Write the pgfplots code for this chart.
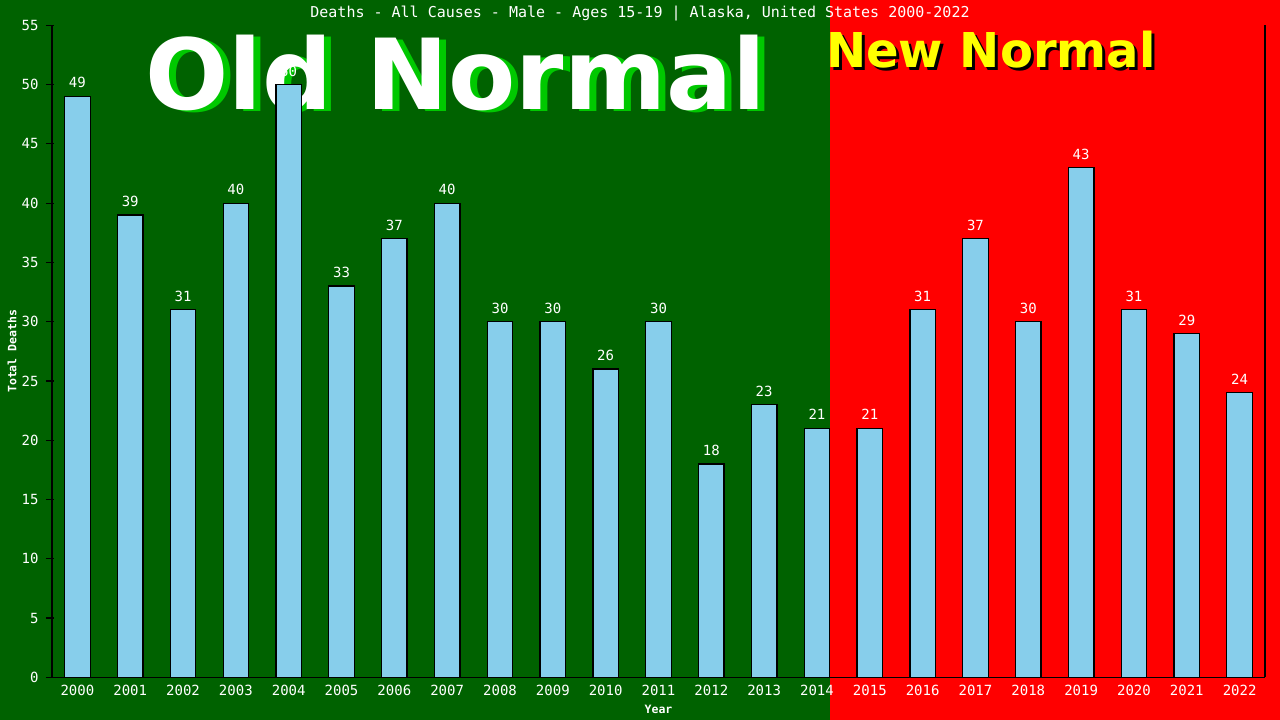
\documentclass[border=0pt]{standalone}
\usepackage{fontspec}
\usepackage{pgfplots}
\usepackage{pgfplotstable}
\pgfplotsset{compat=1.18}
\setmainfont{DejaVu Sans}
\newfontfamily\mono{DejaVu Sans Mono}

\definecolor{bgGreen}{RGB}{0,98,0}
\definecolor{bgRed}{RGB}{255,0,0}
\definecolor{barBlue}{RGB}{135,206,235}
\definecolor{oldShadow}{RGB}{0,200,0}
\definecolor{newYellow}{RGB}{255,255,0}

% year index (0 = 2000) and total deaths
\pgfplotstableread{
idx deaths
0  49
1  39
2  31
3  40
4  50
5  33
6  37
7  40
8  30
9  30
10 26
11 30
12 18
13 23
14 21
15 21
16 31
17 37
18 30
19 43
20 31
21 29
22 24
}\deaths

\begin{document}
\begin{tikzpicture}
    % background halves
    \fill[bgGreen] (0pt,0pt) rectangle (830pt,720pt);
    \fill[bgRed] (830pt,0pt) rectangle (1280pt,720pt);
    \useasboundingbox (0pt,0pt) rectangle (1280pt,720pt);

    % big labels
    \node[anchor=base west, inner sep=0, text=oldShadow, font=\bfseries\fontsize{98}{98}\selectfont]
        at (152pt,608pt) {Old Normal};
    \node[anchor=base west, inner sep=0, text=white, font=\bfseries\fontsize{98}{98}\selectfont]
        at (145pt,610pt) {Old Normal};
    \node[anchor=base west, inner sep=0, text=black, font=\bfseries\fontsize{48}{48}\selectfont]
        at (829pt,649pt) {New Normal};
    \node[anchor=base west, inner sep=0, text=newYellow, font=\bfseries\fontsize{48}{48}\selectfont]
        at (826pt,652pt) {New Normal};

    % title
    \node[anchor=base, inner sep=0, text=white, font=\mono\fontsize{15}{15}\selectfont]
        at (640pt,702pt) {Deaths - All Causes - Male - Ages 15-19 | Alaska, United States 2000-2022};

    \begin{axis}[
        at={(52pt,42.7pt)},
        anchor=south west,
        scale only axis,
        width=1213pt,
        height=652pt,
        xmin=-0.48, xmax=22.48,
        ymin=0, ymax=55,
        axis line style={draw=none},
        clip=false,
        /pgf/number format/assume math mode=true,
        ytick={0,5,...,55},
        ytick pos=left,
        ytick style={black, line width=1.2pt, xshift=2pt},
        major tick length=8pt,
        tick align=outside,
        yticklabel style={text=white, font=\mono\fontsize{14}{14}\selectfont, xshift=-2pt},
        xtick={0,...,22},
        xticklabels={2000,2001,2002,2003,2004,2005,2006,2007,2008,2009,2010,
                     2011,2012,2013,2014,2015,2016,2017,2018,2019,2020,2021,2022},
        xtick style={draw=none},
        xticklabel style={text=white, font=\mono\fontsize{14}{14}\selectfont, anchor=base, yshift=-10pt},
        xlabel={Year},
        xlabel style={at={(axis description cs:0.5,0)}, anchor=center, yshift=-31.7pt,
                      text=white, font=\mono\bfseries\fontsize{11.5}{11.5}\selectfont},
        ylabel={Total Deaths},
        ylabel style={at={([xshift=-40pt]axis description cs:0,0.5)}, anchor=center,
                      text=white, font=\mono\bfseries\fontsize{11.5}{11.5}\selectfont},
        ybar,
        bar width=25.5pt,
        nodes near coords,
        every node near coord/.append style={text=white, anchor=base, inner sep=0, yshift=8.5pt,
                      font=\mono\fontsize{14}{14}\selectfont},
    ]
    \addplot[fill=barBlue, draw=black, line width=1.2pt] table[x=idx, y=deaths] {\deaths};

    % axis lines: left, bottom, right
    \draw[black, line width=1.2pt] (rel axis cs:0,0) -- (rel axis cs:0,1);
    \draw[black, line width=1.2pt] ([xshift=-6pt]rel axis cs:0,0) -- (rel axis cs:1,0);
    \draw[black, line width=1.2pt] (rel axis cs:1,0) -- (rel axis cs:1,1);
    \end{axis}
\end{tikzpicture}
\end{document}
